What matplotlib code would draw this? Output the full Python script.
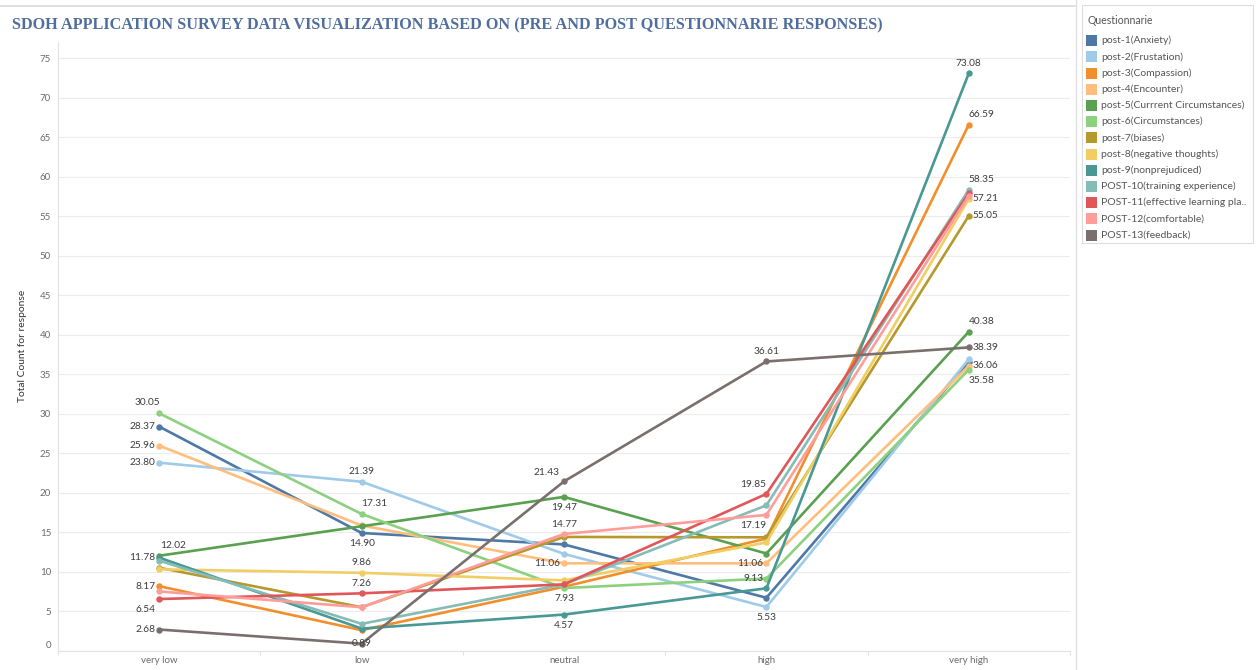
import matplotlib
matplotlib.use("Agg")
import matplotlib.pyplot as plt
from matplotlib.patches import Rectangle
from matplotlib.lines import Line2D
from matplotlib.transforms import ScaledTranslation

plt.rcParams['font.family'] = ['Lato', 'DejaVu Sans']

# ---- data ----
categories = ["very low", "low", "neutral", "high", "very high"]

series_names = [
    "post-1(Anxiety)",
    "post-2(Frustation)",
    "post-3(Compassion)",
    "post-4(Encounter)",
    "post-5(Currrent Circumstances)",
    "post-6(Circumstances)",
    "post-7(biases)",
    "post-8(negative thoughts)",
    "post-9(nonprejudiced)",
    "POST-10(training experience)",
    "POST-11(effective learning platform)",
    "POST-12(comfortable)",
    "POST-13(feedback)",
]

post1 = [28.37, 14.90, 13.45, 6.70, 36.55]
post2 = [23.80, 21.39, 12.25, 5.53, 36.90]
post3 = [8.17, 2.60, 8.10, 14.20, 66.59]
post4 = [25.96, 15.85, 11.06, 11.06, 36.06]
post5 = [12.02, 15.75, 19.47, 12.30, 40.38]
post6 = [30.05, 17.31, 7.93, 9.13, 35.58]
post7 = [10.50, 5.50, 14.40, 14.35, 55.05]
post8 = [10.30, 9.86, 8.90, 13.70, 57.21]
post9 = [11.78, 2.80, 4.57, 7.90, 73.08]
post10 = [11.40, 3.40, 8.40, 18.40, 58.35]
post11 = [6.54, 7.26, 8.40, 19.85, 57.90]
post12 = [7.50, 5.50, 14.77, 17.19, 57.60]
post13 = [2.68, 0.89, 21.43, 36.61, 38.39]

series_values = [post1, post2, post3, post4, post5, post6, post7,
                 post8, post9, post10, post11, post12, post13]

colors = ["#4E79A7", "#A0CBE8", "#F28E2B", "#FFBE7D", "#59A14F", "#8CD17D",
          "#B6992D", "#F1CE63", "#499894", "#86BCB6", "#E15759", "#FF9D9A",
          "#79706E"]

# labelled points: (series index, category index, ha, dx px, dy px)
value_labels = [
    (5, 0, "center", -12, 11), (0, 0, "right", -4, 0), (3, 0, "right", -4, 0),
    (1, 0, "right", -4, 0), (4, 0, "center", 14, 10), (8, 0, "right", -4, 0),
    (2, 0, "right", -4, 0), (10, 0, "right", -4, -10), (12, 0, "right", -4, 0),
    (1, 1, "center", 0, 10), (5, 1, "center", 13, 10), (0, 1, "center", 0, -11),
    (7, 1, "center", 0, 10), (10, 1, "center", 0, 10), (12, 1, "center", 0, 0),
    (12, 2, "center", -17, 9), (4, 2, "center", 0, -11), (11, 2, "center", 0, 10),
    (3, 2, "right", -4, 0), (5, 2, "center", 0, -10), (8, 2, "center", 0, -11),
    (12, 3, "center", 0, 10), (10, 3, "right", 0, 9), (11, 3, "right", 0, -11),
    (3, 3, "right", -3, 0), (5, 3, "right", -3, 0), (1, 3, "center", 0, -10),
    (8, 4, "center", 0, 10), (2, 4, "left", 0, 10), (9, 4, "left", 0, 10),
    (7, 4, "left", 4, 0), (6, 4, "left", 4, 0), (4, 4, "left", 0, 10),
    (12, 4, "left", 4, 0), (3, 4, "left", 4, 0), (5, 4, "left", 0, -11),
]

W, H = 1259, 670
fig = plt.figure(figsize=(W / 100, H / 100), dpi=100)
fig.patch.set_facecolor("white")


def fx(px):
    return px / W


def fy(py):
    return 1 - py / H


ax = fig.add_axes([fx(58), fy(650.7), fx(1070) - fx(58), fy(42) - fy(650.7)])
ax.set_xlim(-0.5, len(categories) - 0.5)
ax.set_ylim(0, 77.05)

x = list(range(len(categories)))
for vals, col in zip(series_values, colors):
    ax.plot(x, vals, color=col, lw=1.9, marker="o", ms=3.6,
            solid_joinstyle="miter", zorder=3, clip_on=False)

for si, ci, ha, dx, dy in value_labels:
    v = series_values[si][ci]
    ax.annotate(f"{v:.2f}", (ci, v), xytext=(dx, dy), textcoords="offset pixels",
                ha=ha, va="center", fontsize=7.3, color="#3c3c3c", zorder=5)

# axes styling
ax.set_yticks(range(0, 80, 5))
ax.tick_params(axis="y", length=0, labelsize=7, labelcolor="#6b6b6b", pad=5)
ax.grid(axis="y", color="#ececec", lw=0.8, zorder=0)
ax.set_xticks(x)
ax.set_xticklabels(categories)
ax.tick_params(axis="x", which="major", length=0, labelsize=7,
               labelcolor="#6b6b6b", pad=4)
ax.set_xticks([i - 0.5 for i in range(len(categories) + 1)], minor=True)
ax.tick_params(axis="x", which="minor", length=3, color="#e2e2e2", width=0.8)
for s in ["top", "right"]:
    ax.spines[s].set_visible(False)
ax.spines["left"].set_color("#e2e2e2")
ax.spines["bottom"].set_color("#e2e2e2")
ax.set_ylabel("Total Count for response", fontsize=7.4, color="#333333", labelpad=9)

# lift the zero tick label off the baseline
fig.canvas.draw()
zero_lbl = ax.get_yticklabels()[0]
zero_lbl.set_transform(zero_lbl.get_transform() + ScaledTranslation(0, 6 / 100, fig.dpi_scale_trans))

# title and frame lines
fig.text(fx(12), fy(25), "SDOH APPLICATION SURVEY DATA VISUALIZATION BASED ON (PRE AND POST QUESTIONNARIE RESPONSES)",
         family="Liberation Serif", weight="bold", fontsize=11.7, color="#4F6E9E",
         ha="left", va="center")
fig.add_artist(Line2D([0, fx(1075)], [fy(6), fy(6)], color="#d9d9d9", lw=1.2))
fig.add_artist(Line2D([fx(1076), fx(1076)], [0, 1], color="#e0e0e0", lw=1.0))

# legend panel
fig.add_artist(Rectangle((fx(1082), fy(243)), fx(1253) - fx(1082), fy(5) - fy(243),
                         facecolor="white", edgecolor="#dcdcdc", lw=0.8))
fig.text(fx(1088), fy(20), "Questionnarie", fontsize=7.6, color="#555555",
         ha="left", va="center")
row0, step = 40.7, 16.2
for i, (name, col) in enumerate(zip(series_names, colors)):
    yc = row0 + i * step
    fig.add_artist(Rectangle((fx(1086), fy(yc + 5.5)), fx(11), 11 / H,
                             facecolor=col, edgecolor="none"))
    shown = name if len(name) <= 30 else name[:30] + ".."
    fig.text(fx(1101), fy(yc), shown, fontsize=7.5, color="#555555",
             ha="left", va="center")

fig.savefig("out.png", dpi=100)
